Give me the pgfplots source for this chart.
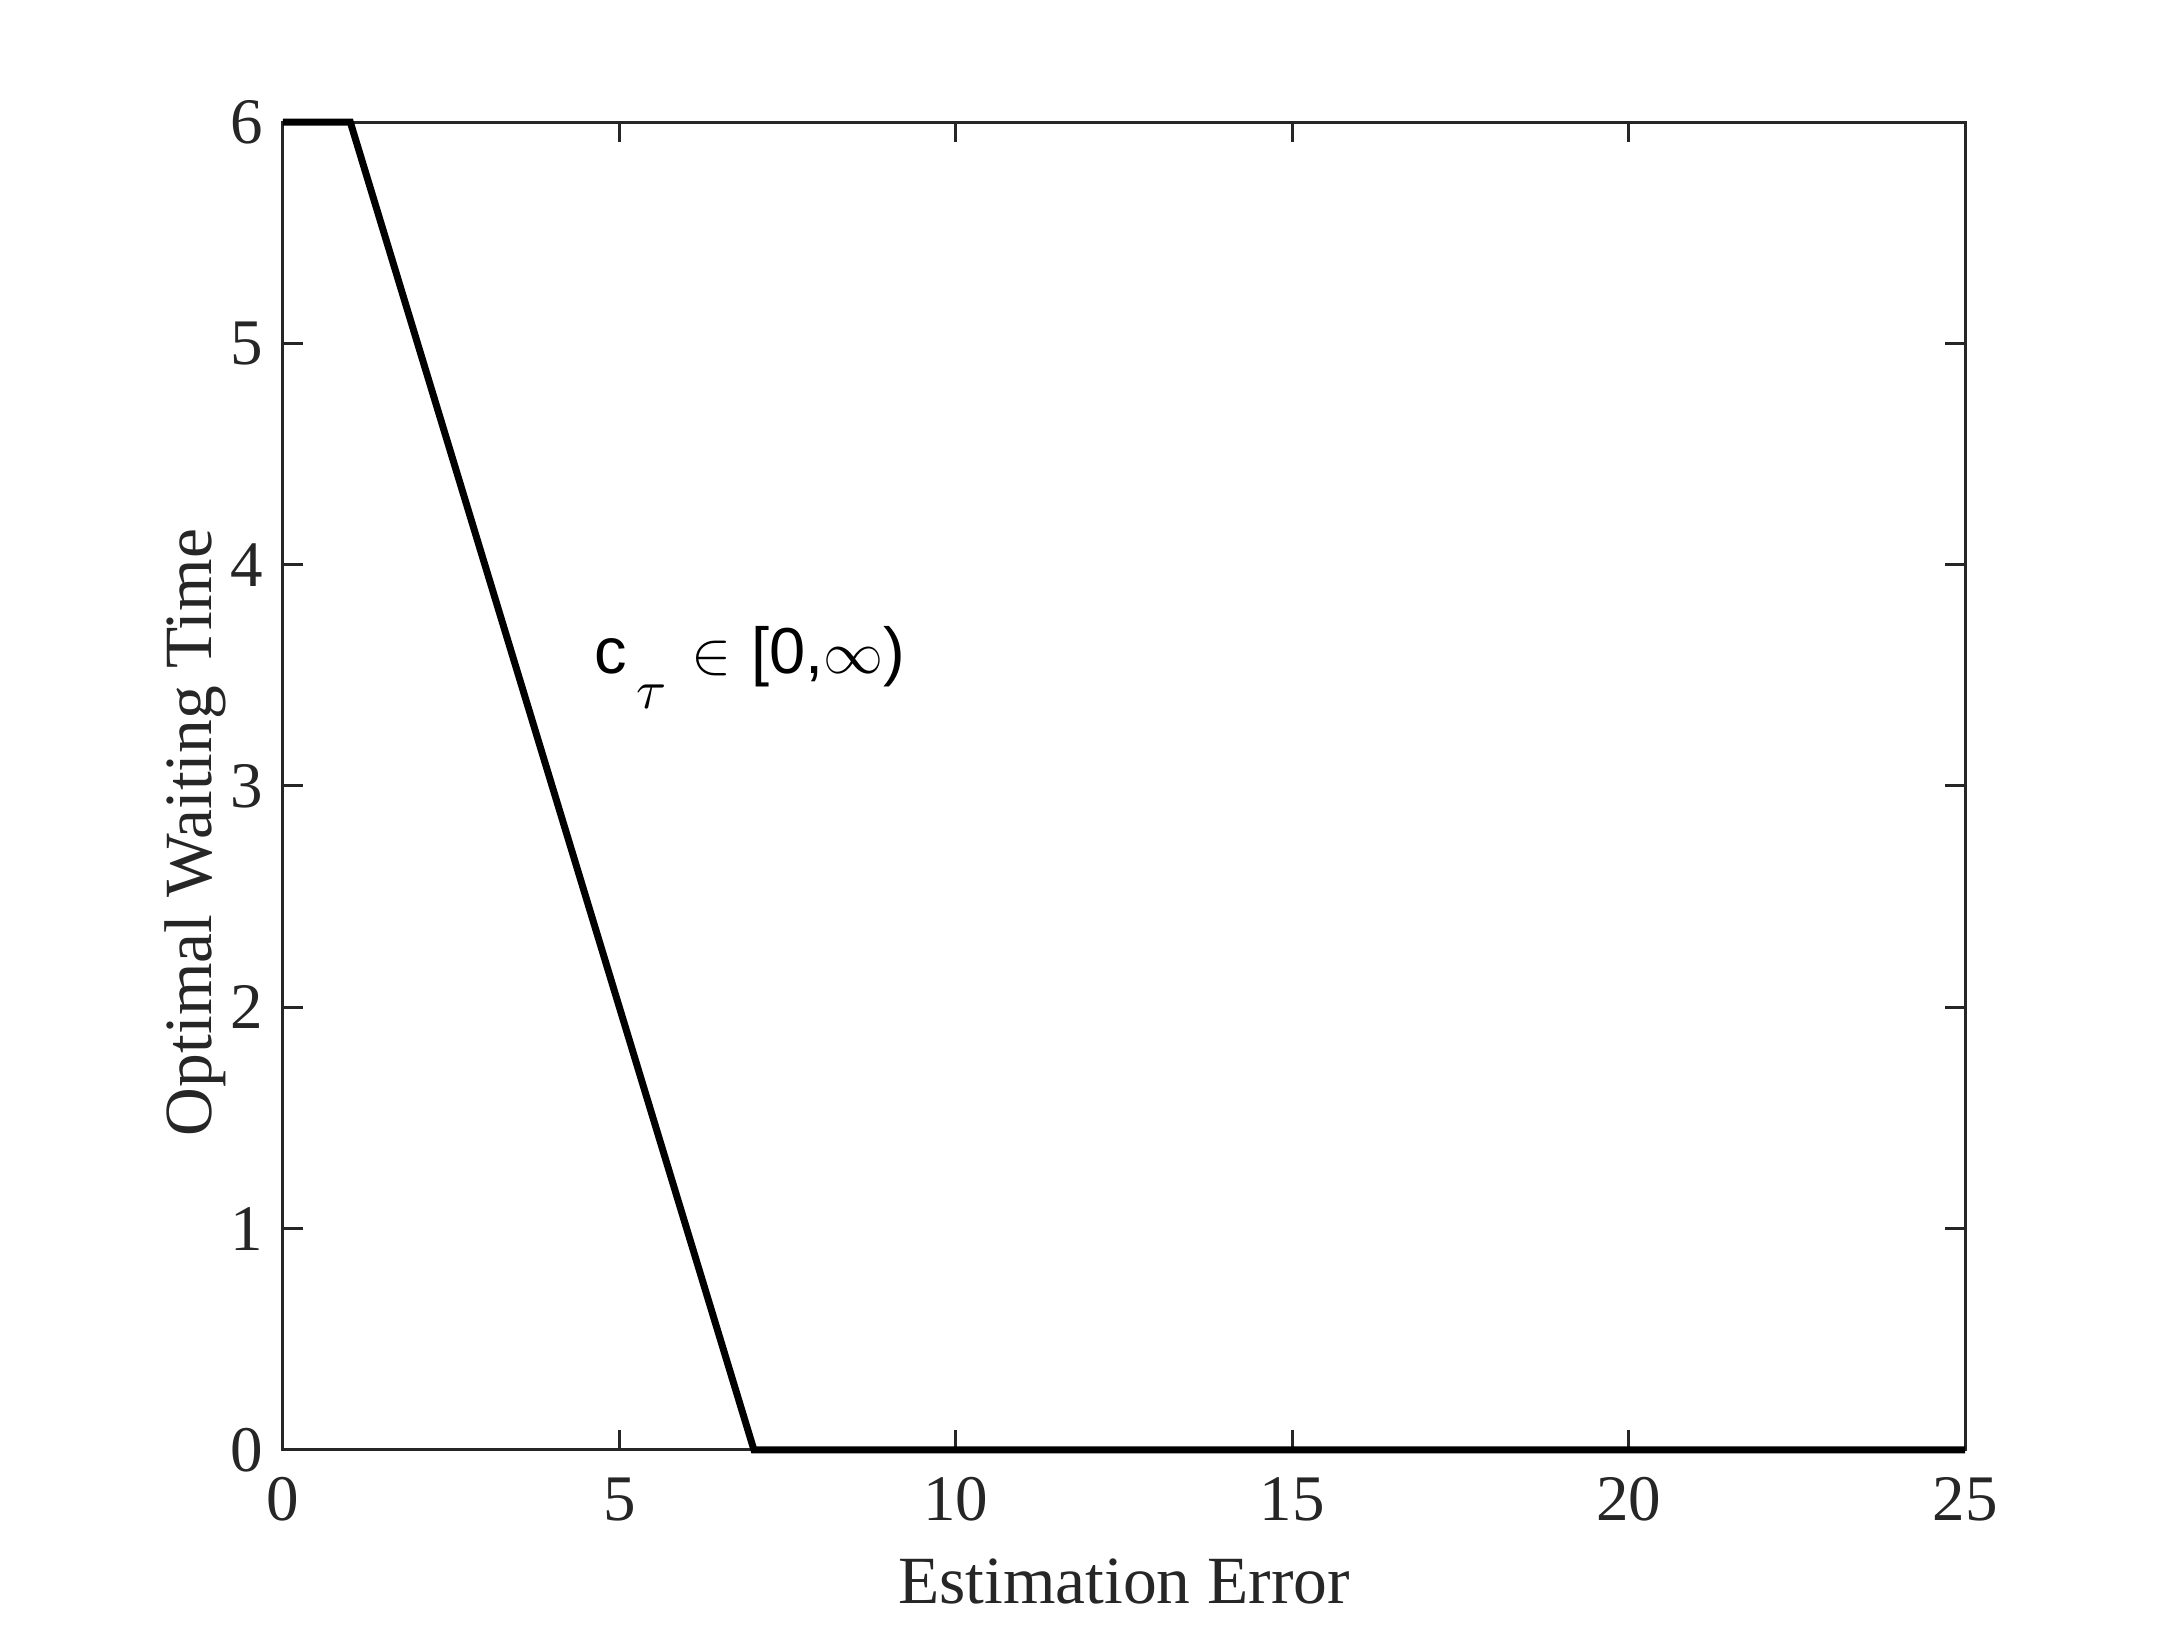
\documentclass[border=0pt]{standalone}
\usepackage{pgfplots}
\pgfplotsset{compat=1.18}
\usepackage{fontspec}
\setmainfont{Liberation Serif}
\newfontfamily\helv{Liberation Sans}
\definecolor{axgray}{HTML}{262626}
\begin{document}
\begin{tikzpicture}
\useasboundingbox (-56.6pt,-36pt) rectangle (378pt,290pt);
\begin{axis}[
  at={(0,0)}, anchor=south west,
  scale only axis, width=336.4pt, height=265.6pt,
  xmin=0, xmax=25, ymin=0, ymax=6,
  xtick={0,5,10,15,20,25}, ytick={0,1,2,3,4,5,6},
  tick align=inside, major tick length=3.9pt,
  axis line style={axgray, line width=0.6pt},
  every tick/.style={axgray, line width=0.6pt},
  tick label style={font=\fontsize{13}{15}\selectfont, text=axgray},
  /pgf/number format/assume math mode=true,
  xticklabel style={yshift=-2pt},
  yticklabel style={xshift=-0.5pt},
  label style={font=\fontsize{13.5}{15}\selectfont, text=axgray},
  xlabel={Estimation Error},
  ylabel={Optimal Waiting Time},
  xlabel style={at={(axis description cs:0.5,0)}, anchor=base, yshift=-30.8pt},
  ylabel style={at={(axis description cs:0,0.465)}, anchor=base, yshift=14.3pt},
  clip=false,
]
\addplot[black, line width=1.4pt] coordinates {(0,6) (1,6) (7,0) (25,0)};
\node[anchor=base west, inner sep=0pt, font=\fontsize{13}{15}\selectfont] at (axis cs:4.61,3.51) {\helv c\kern1.9pt\raisebox{-7pt}{\fontsize{11}{12}\selectfont$\tau$}\kern5pt$\in$\kern4pt[0,$\infty$)};
\end{axis}
\end{tikzpicture}
\end{document}
